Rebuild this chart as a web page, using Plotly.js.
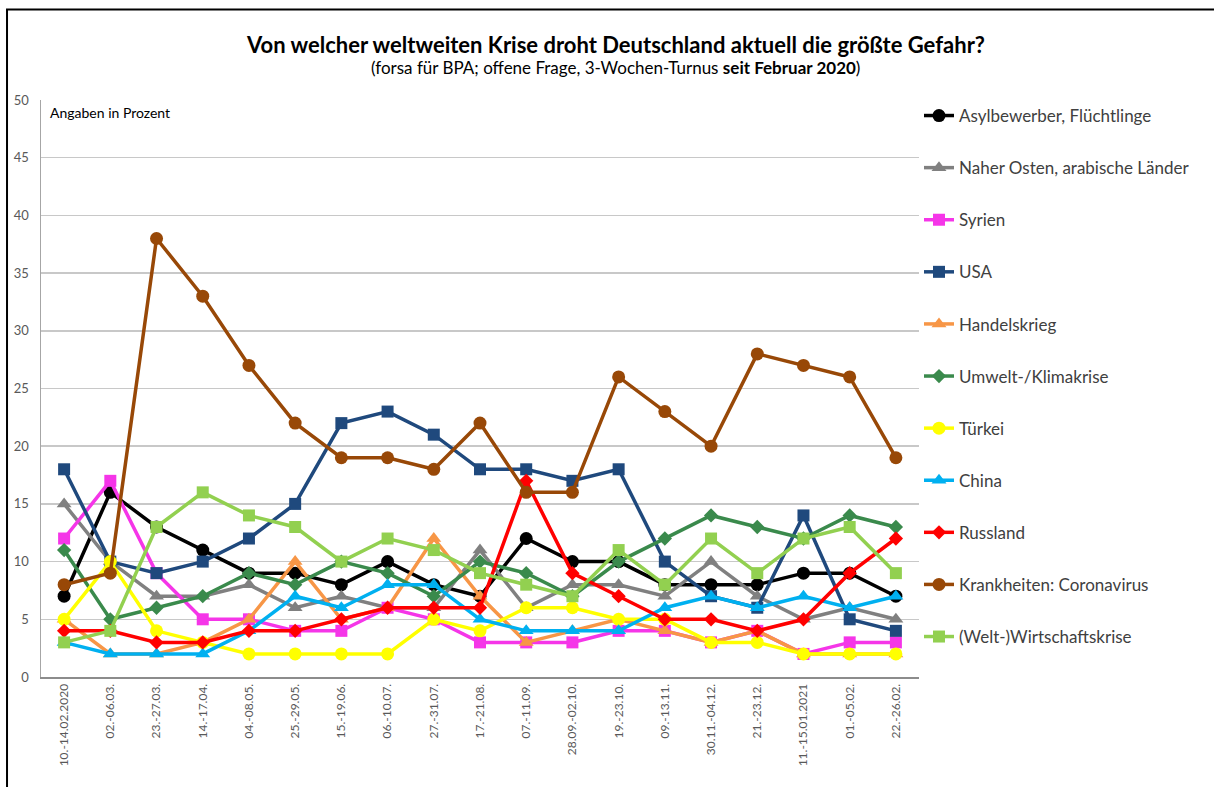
<!DOCTYPE html>
<html>
<head>
<meta charset="utf-8">
<script src="https://cdn.plot.ly/plotly-3.0.1.min.js"></script>
<style>
html,body{margin:0;padding:0;background:#fff;}
#chart{width:1214px;height:787px;}
</style>
</head>
<body>
<div id="chart"></div>
<script>
const categories = ["10.-14.02.2020","02.-06.03.","23.-27.03.","14.-17.04.","04.-08.05.","25.-29.05.","15.-19.06.","06.-10.07.","27.-31.07.","17.-21.08.","07.-11.09.","28.09.-02.10.","19.-23.10.","09.-13.11.","30.11.-04.12.","21.-23.12.","11.-15.01.2021","01.-05.02.","22.-26.02."];

const asylbewerber   = [7,16,13,11,9,9,8,10,8,7,12,10,10,8,8,8,9,9,7];
const naherOsten     = [15,10,7,7,8,6,7,6,6,11,6,8,8,7,10,7,5,6,5];
const syrien         = [12,17,9,5,5,4,4,6,5,3,3,3,4,4,3,4,2,3,3];
const usa            = [18,10,9,10,12,15,22,23,21,18,18,17,18,10,7,6,14,5,4];
const handelskrieg   = [5,2,2,3,5,10,5,6,12,7,3,4,5,4,3,4,2,2,2];
const umwelt         = [11,5,6,7,9,8,10,9,7,10,9,7,10,12,14,13,12,14,13];
const tuerkei        = [5,10,4,3,2,2,2,2,5,4,6,6,5,5,3,3,2,2,2];
const china          = [3,2,2,2,4,7,6,8,8,5,4,4,4,6,7,6,7,6,7];
const russland       = [4,4,3,3,4,4,5,6,6,6,17,9,7,5,5,4,5,9,12];
const krankheiten    = [8,9,38,33,27,22,19,19,18,22,16,16,26,23,20,28,27,26,19];
const wirtschaft     = [3,4,13,16,14,13,10,12,11,9,8,7,11,8,12,9,12,13,9];

const seriesNames = ["Asylbewerber, Flüchtlinge","Naher Osten, arabische Länder","Syrien","USA","Handelskrieg","Umwelt-/Klimakrise","Türkei","China","Russland","Krankheiten: Coronavirus","(Welt-)Wirtschaftskrise"];
const seriesData = [asylbewerber,naherOsten,syrien,usa,handelskrieg,umwelt,tuerkei,china,russland,krankheiten,wirtschaft];
const seriesColors = ["#000000","#808080","#f535e8","#1f497d","#f79646","#3a8a4c","#ffff00","#00b0f0","#ff0000","#984807","#92d050"];
const seriesSymbols = ["circle","triangle-up","square","square","triangle-up","diamond","circle","triangle-up","diamond","circle","square"];
const seriesSizes = [13,13,12,12,13,11,13,13,11,13,12];

const FONT = "Lato, 'Open Sans', sans-serif";

const traces = seriesNames.map((n,i)=>({
  type:'scatter', mode:'lines+markers', name:n,
  x:categories, y:seriesData[i],
  legendgroup:'g'+i,
  line:{color:seriesColors[i], width:3.5},
  marker:{color:seriesColors[i], symbol:seriesSymbols[i], size:seriesSizes[i]},
  cliponaxis:false
}));

const layout = {
  width:1214, height:787,
  margin:{l:41, r:295, t:100, b:110},
  paper_bgcolor:'#ffffff', plot_bgcolor:'#ffffff',
  font:{family:FONT, color:'#595959'},
  showlegend:true,
  legend:{x:1.0, xanchor:'left', y:1.0035, yanchor:'top', xref:'paper', yref:'paper',
          font:{family:FONT, size:17, color:'#404040'}, tracegroupgap:27,
          itemwidth:30, bgcolor:'rgba(0,0,0,0)', maxheight:700},
  xaxis:{type:'category', range:[-0.5, categories.length-0.5],
         tickangle:-90, tickfont:{family:FONT, size:12, color:'#595959'},
         showline:true, linecolor:'#8c8c8c', linewidth:2, ticks:'', showgrid:false,
         zeroline:false, fixedrange:true},
  yaxis:{range:[0,50], dtick:5, tickfont:{family:FONT, size:13, color:'#595959'},
         showline:true, linecolor:'#a6a6a6', linewidth:1.5, ticks:'',
         showgrid:true, gridcolor:'#c8c8c8', gridwidth:1.5, zeroline:false,
         ticklabelstandoff:8, fixedrange:true},
  annotations:[
    {xref:'paper', yref:'paper', x:0.654, y:1, xanchor:'center', yanchor:'middle', yshift:56,
     text:'Von welcher weltweiten Krise droht Deutschland aktuell die größte Gefahr?',
     showarrow:false, font:{family:FONT, size:22, color:'#000000', weight:'bold'}},
    {xref:'paper', yref:'paper', x:0.654, y:1, xanchor:'center', yanchor:'middle', yshift:33,
     text:'(forsa für BPA; offene Frage, 3-Wochen-Turnus <b>seit Februar 2020</b>)',
     showarrow:false, font:{family:FONT, size:17, color:'#000000'}},
    {xref:'paper', yref:'paper', x:0.008, y:0.997, xanchor:'left', yanchor:'top',
     text:'Angaben in Prozent', showarrow:false, font:{family:FONT, size:14, color:'#000000'}}
  ],
  shapes:[
    {type:'rect', xref:'paper', yref:'paper', layer:'above',
     x0:-0.0387, x1:1.40, y0:-0.30, y1:1.157,
     line:{color:'#000000', width:2}, fillcolor:'rgba(0,0,0,0)'}
  ]
};

Plotly.newPlot('chart', traces, layout, {displayModeBar:false, staticPlot:true});
</script>
</body>
</html>
